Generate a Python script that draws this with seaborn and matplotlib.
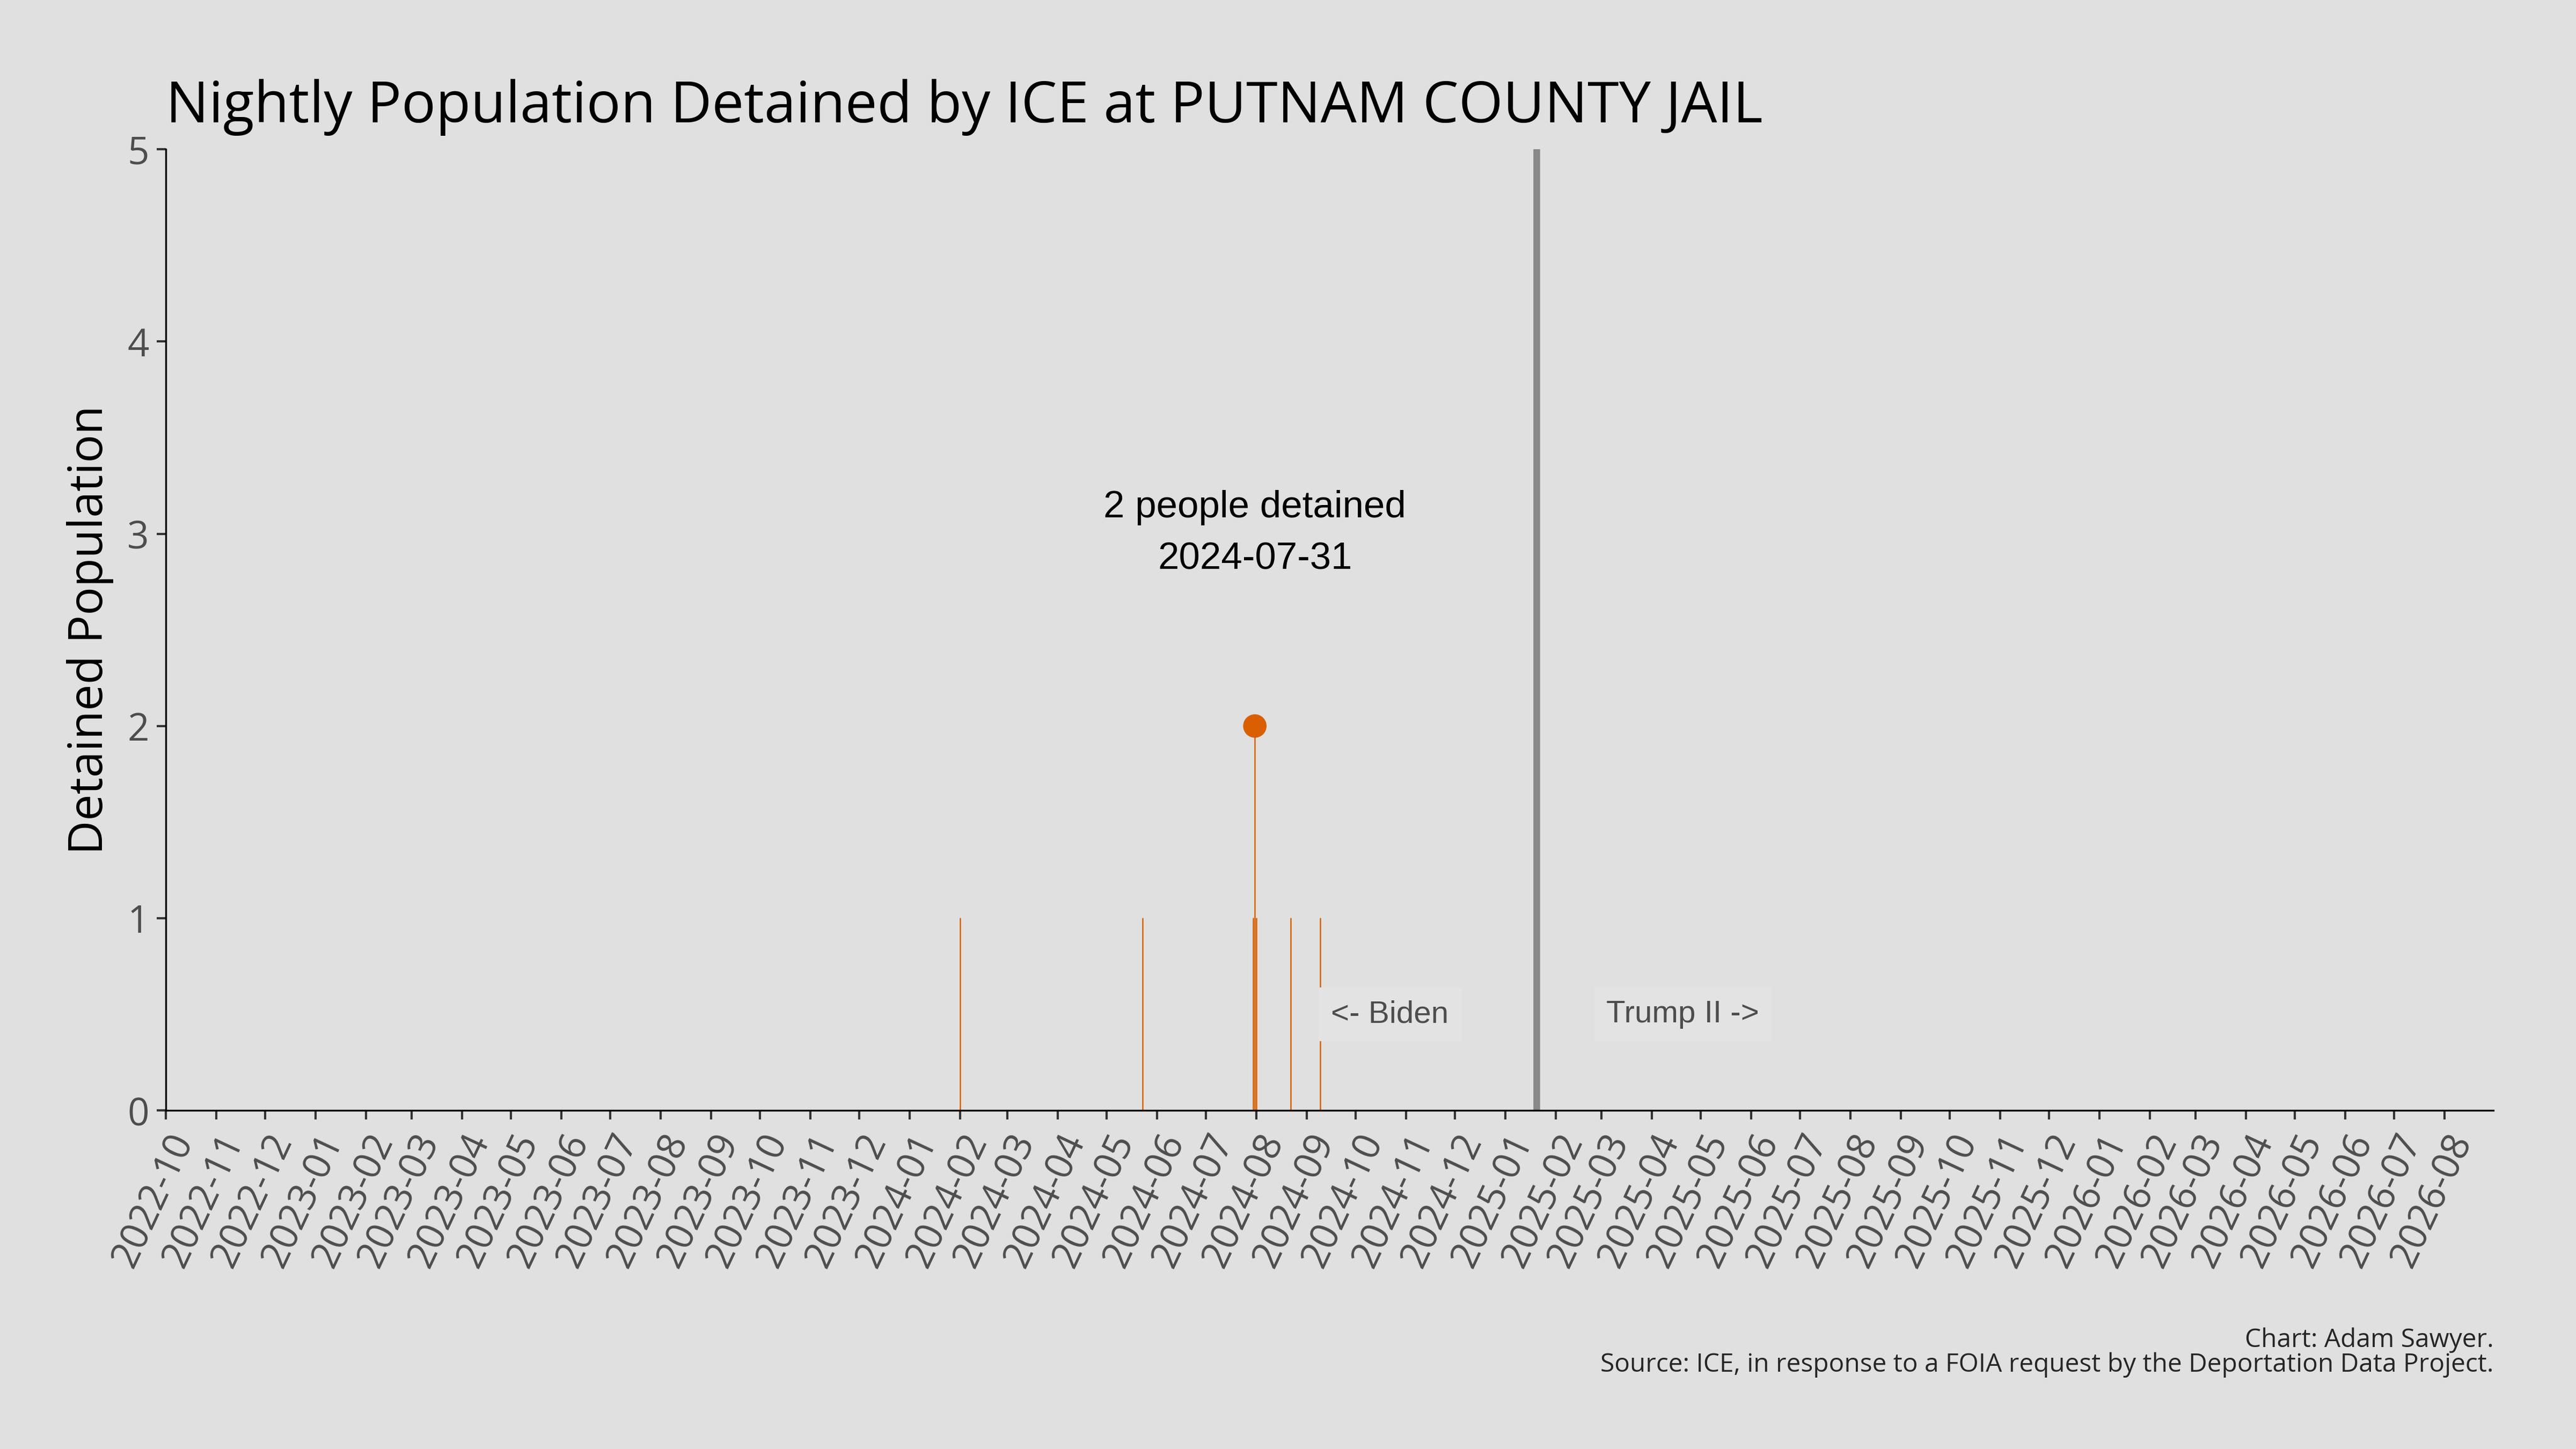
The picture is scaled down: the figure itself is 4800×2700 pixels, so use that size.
import pandas as pd
import numpy as np
import seaborn as sns
import matplotlib.pyplot as plt
import matplotlib.dates as mdates

# ---------------------------------------------
# DATA (nights with someone detained, all others are 0)
# ---------------------------------------------
detained_dates  = ["2024-02-01", "2024-05-23", "2024-07-30", "2024-07-31",
                   "2024-08-01", "2024-08-22", "2024-09-09"]
detained_counts = [1, 1, 1, 2, 1, 1, 1]

range_start  = "2022-10-01"
range_end    = "2026-08-31"
inauguration = "2025-01-20"

facility  = "PUTNAM COUNTY JAIL"
era_left  = "<- Biden"
era_right = "Trump II ->"

BG     = "#e0e0e0"
ORANGE = "#d95f02"

# one vertical stroke per night: rows (date, 0) and (date, count)
pop = pd.DataFrame({"date": pd.to_datetime(detained_dates),
                    "population": detained_counts})
pop["night"] = range(len(pop))
base = pop.assign(population=0)
strokes = pd.concat([base, pop]).sort_values(["night", "population"])

# ---------------------------------------------
# STYLE
# ---------------------------------------------
sns.set_style("ticks", {"axes.facecolor": BG, "figure.facecolor": BG,
                        "axes.edgecolor": "black"})
plt.rcParams["font.family"] = ["Open Sans", "DejaVu Sans"]

fig, ax = plt.subplots(figsize=(16, 9), dpi=300)
fig.subplots_adjust(left=0.0644, right=0.968, top=0.897, bottom=0.2336)

sns.lineplot(data=strokes, x="date", y="population", units="night",
             estimator=None, sort=False, ax=ax, color=ORANGE, linewidth=0.6)

peak = pop.loc[pop["population"].idxmax()]
sns.scatterplot(x=[peak["date"]], y=[peak["population"]], ax=ax,
                color=ORANGE, s=110, edgecolor="none", zorder=5)

ax.axvline(pd.Timestamp(inauguration), color="#888888", linewidth=3)

ax.text(peak["date"], peak["population"] + 1,
        f"{int(peak['population'])} people detained\n{peak['date']:%Y-%m-%d}",
        ha="center", va="center", fontsize=17, family="Liberation Sans",
        color="black", linespacing=1.6)

box = dict(boxstyle="square,pad=0.4", facecolor="#e3e3e3", edgecolor="none")
ax.text(pd.Timestamp(inauguration) - pd.Timedelta(days=90), 0.5, era_left,
        ha="center", va="center", fontsize=14, family="Liberation Sans",
        color="#4d4d4d", bbox=box)
ax.text(pd.Timestamp(inauguration) + pd.Timedelta(days=90), 0.5, era_right,
        ha="center", va="center", fontsize=14, family="Liberation Sans",
        color="#4d4d4d", bbox=box)

# ---------------------------------------------
# AXES
# ---------------------------------------------
ax.set_xlim(pd.Timestamp(range_start), pd.Timestamp(range_end))
ax.set_ylim(0, 5)
ax.set_yticks(range(0, 6))
ax.xaxis.set_major_locator(mdates.MonthLocator())
ax.xaxis.set_major_formatter(mdates.DateFormatter("%Y-%m"))
plt.setp(ax.get_xticklabels(), rotation=65, ha="right", rotation_mode="anchor")
ax.tick_params(axis="both", labelsize=17, colors="#333333", labelcolor="#4d4d4d",
               length=4, width=1)
sns.despine(ax=ax)
ax.set_xlabel("")
ax.set_ylabel("Detained Population", fontsize=21, color="black", labelpad=6)

ax.set_title(f"Nightly Population Detained by ICE at {facility}",
             loc="left", fontsize=25.5, color="black", pad=12)

fig.text(0.968, 0.075, "Chart: Adam Sawyer.", ha="right", va="center", fontsize=11.5)
fig.text(0.968, 0.058,
         "Source: ICE, in response to a FOIA request by the Deportation Data Project.",
         ha="right", va="center", fontsize=11.5)

plt.savefig("out.png", dpi=300, facecolor=BG)
